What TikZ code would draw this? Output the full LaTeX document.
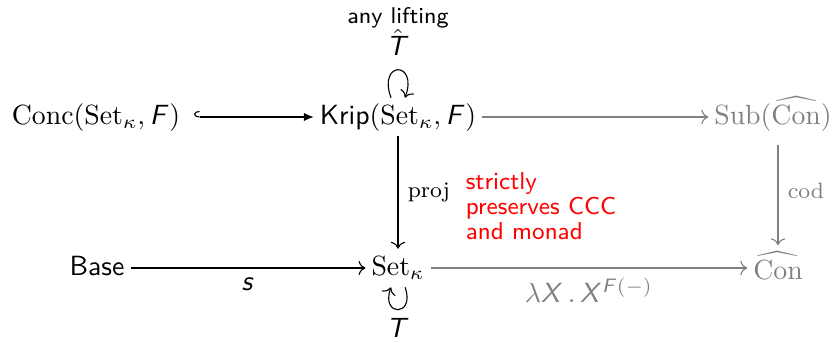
\documentclass[tikz,border=0pt]{standalone}
\usepackage{amsmath}
\usepackage{amssymb}
\usepackage{xcolor}
\usepackage{tikz}
\usetikzlibrary{arrows.meta,positioning}
\DeclareMathAlphabet{\mathsfit}{OT1}{cmss}{m}{sl}
\definecolor{FaintGray}{gray}{0.5}

\begin{document}
\begin{tikzpicture}[x=0.36pt, y=-0.36pt,
    obj/.style={inner sep=2pt, text height=7.5pt, text depth=2pt},
    faint/.style={text=FaintGray},
    arrow/.style={-{Computer Modern Rightarrow}, line width=0.4pt},
    hookarrow/.style={{Hooks[right,length=2pt,width=4.4pt]}-{Latex[length=3.6pt,width=3pt]}, line width=0.4pt},
    fadedarrow/.style={arrow, draw=FaintGray},
    lbl/.style={font=\footnotesize},
    note/.style={text=red, font=\fontsize{8.8}{7.8}\selectfont\sffamily, align=left},
  ]
    \useasboundingbox (0,0) rectangle (838,342);
    \node[obj, outer sep=3pt] (conc) at (96,117)  {$\mathrm{Conc}(\mathrm{Set}_\kappa,\mathsfit{F})$};
    \node[obj] (krip) at (398,117) {$\textsf{Krip}(\mathrm{Set}_\kappa,\mathsfit{F})$};
    \node[obj,faint] (sub) at (773,117) {$\mathrm{Sub}(\widehat{\mathrm{Con}})$};
    \node[obj] (base) at (97,268)  {\textsf{Base}};
    \node[obj] (set)  at (398,268) {$\mathrm{Set}_\kappa$};
    \node[obj,faint,text height=10pt] (con) at (778,268) {$\widehat{\mathrm{Con}}$};
    % top row
    \draw[hookarrow] (conc) -- (krip);
    \draw[fadedarrow] (krip) -- (sub);
    % verticals
    \draw[arrow] (krip) -- node[right, lbl] {proj} (set);
    \draw[fadedarrow, shorten <=3pt] (sub.south -| con) -- node[right, lbl, text=FaintGray] {cod} (con);
    \node[note, anchor=west] (strict) at (456,206) {strictly\\preserves CCC\\and monad};
    % bottom row
    \draw[arrow] (base) -- node[below] {$\mathsfit{s}$} (set);
    \draw[fadedarrow] (set) -- node[below, text=FaintGray] {$\lambda\mathsfit{X}\,.\,\mathsfit{X}^{\mathsfit{F}(-)}$} (con);
    % loops
    \path (krip) edge[arrow, out=110, in=70, distance=5mm] node[above, inner sep=5pt] (that) {$\hat{\mathsfit{T}}$} (krip);
    \node[font=\fontsize{8.2}{10}\selectfont\sffamily] (lift) at (398,18) {any lifting};
    \path (set) edge[arrow, out=-70, in=-110, distance=4mm] node[below, inner sep=3pt] (tmon) {$\mathsfit{T}$} (set);
  \end{tikzpicture}
\end{document}
